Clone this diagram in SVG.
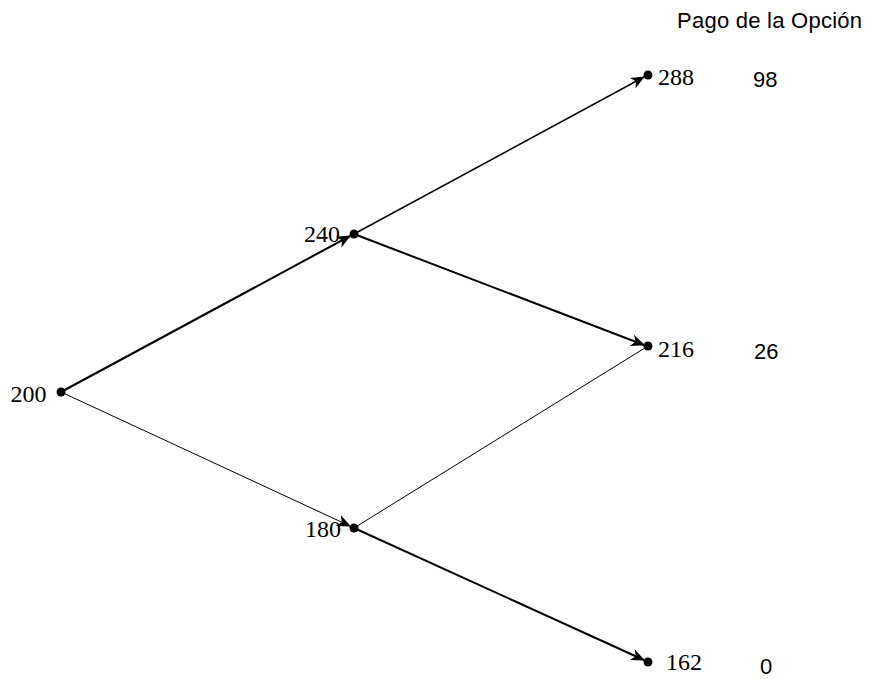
<svg xmlns="http://www.w3.org/2000/svg" width="872" height="679" viewBox="0 0 872 679">
  <style>
    .edge { stroke: #000; fill: none; }
    .thick { stroke-width: 2; }
    .thin { stroke-width: 1; }
    .dot { fill: #000; }
    .price { font-family: "Liberation Serif", "Times New Roman", serif; font-size: 24px; fill: #000; }
    .pay { font-family: "Liberation Sans", Arial, sans-serif; font-size: 22px; fill: #000; }
  </style>
  <defs>
    <marker id="arrow" viewBox="0 0 14 12" refX="13" refY="6" markerWidth="14" markerHeight="12" markerUnits="userSpaceOnUse" orient="auto">
      <path d="M0,0 L14,6 L0,12 L4,6 Z" fill="#000"/>
    </marker>
  </defs>
  <rect width="872" height="679" fill="#fff"/>

  <g id="connectors">
    <line class="edge thick" x1="61" y1="392" x2="350" y2="236" marker-end="url(#arrow)"/>
    <line class="edge thin" x1="61" y1="392" x2="350" y2="526" marker-end="url(#arrow)"/>
    <line class="edge" stroke-width="1.5" x1="354" y1="234" x2="644" y2="77" marker-end="url(#arrow)"/>
    <line class="edge thick" x1="354" y1="234" x2="644" y2="345" marker-end="url(#arrow)"/>
    <line class="edge thin" x1="354" y1="528" x2="648" y2="346"/>
    <line class="edge thick" x1="354" y1="528" x2="644" y2="660" marker-end="url(#arrow)"/>
  </g>

  <g id="n200">
    <circle class="dot" cx="61" cy="392" r="4.5"/>
    <text class="price" x="10.5" y="402">200</text>
  </g>
  <g id="n240">
    <circle class="dot" cx="354" cy="234" r="4.5"/>
    <text class="price" x="304" y="242">240</text>
  </g>
  <g id="n180">
    <circle class="dot" cx="354" cy="528" r="4.5"/>
    <text class="price" x="305" y="537">180</text>
  </g>
  <g id="n288">
    <circle class="dot" cx="648" cy="75" r="4.5"/>
    <text class="price" x="658" y="85">288</text>
  </g>
  <g id="n216">
    <circle class="dot" cx="648" cy="346" r="4.5"/>
    <text class="price" x="658" y="357">216</text>
  </g>
  <g id="n162">
    <circle class="dot" cx="648" cy="662" r="4.5"/>
    <text class="price" x="666" y="670">162</text>
  </g>

  <g id="payoffs">
    <text class="pay" x="677" y="28" textLength="185">Pago de la Opción</text>
    <text class="pay" x="753" y="87">98</text>
    <text class="pay" x="754" y="359">26</text>
    <text class="pay" x="760" y="674" font-size="21">0</text>
  </g>
</svg>
